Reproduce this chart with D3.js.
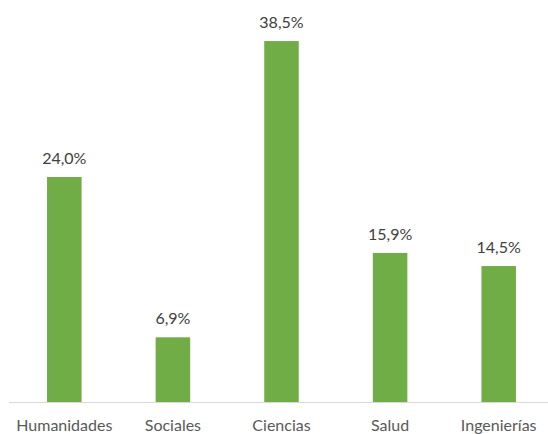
<!DOCTYPE html>
<html><head><meta charset="utf-8">
<script src="https://cdn.jsdelivr.net/npm/d3@7"></script>
<style>body{margin:0;background:#fff}</style></head>
<body><svg id="c" width="548" height="434"></svg>
<script>
const categories = ["Humanidades","Sociales","Ciencias","Salud","Ingenierías"];
const values = [24.0, 6.9, 38.5, 15.9, 14.5];
const valueLabels = ["24,0%","6,9%","38,5%","15,9%","14,5%"];

const svg = d3.select("#c");
const x = d3.scaleBand().domain(categories).range([10, 553]).paddingInner(0.682).paddingOuter(0.341);
const y = d3.scaleLinear().domain([0, 40]).range([402, 27]);
const font = "Lato, 'Open Sans', sans-serif";

svg.selectAll("rect.bar").data(values).join("rect")
  .attr("class","bar")
  .attr("x",(d,i)=>x(categories[i]))
  .attr("width",x.bandwidth())
  .attr("y",d=>y(d))
  .attr("height",d=>y(0)-y(d))
  .attr("fill","#70AD47");

svg.append("line").attr("x1",9).attr("x2",548).attr("y1",402.5).attr("y2",402.5)
  .attr("stroke","#d9d9d9").attr("stroke-width",1);

svg.selectAll("text.val").data(values).join("text")
  .attr("class","val")
  .attr("x",(d,i)=>x(categories[i])+x.bandwidth()/2)
  .attr("y",d=>y(d)-13)
  .attr("text-anchor","middle")
  .attr("font-family",font).attr("font-size",16).attr("fill","#404040")
  .text((d,i)=>valueLabels[i]);

svg.selectAll("text.cat").data(categories).join("text")
  .attr("class","cat")
  .attr("x",d=>x(d)+x.bandwidth()/2)
  .attr("y",431)
  .attr("text-anchor","middle")
  .attr("font-family",font).attr("font-size",16).attr("fill","#595959")
  .text(d=>d);
</script></body></html>
